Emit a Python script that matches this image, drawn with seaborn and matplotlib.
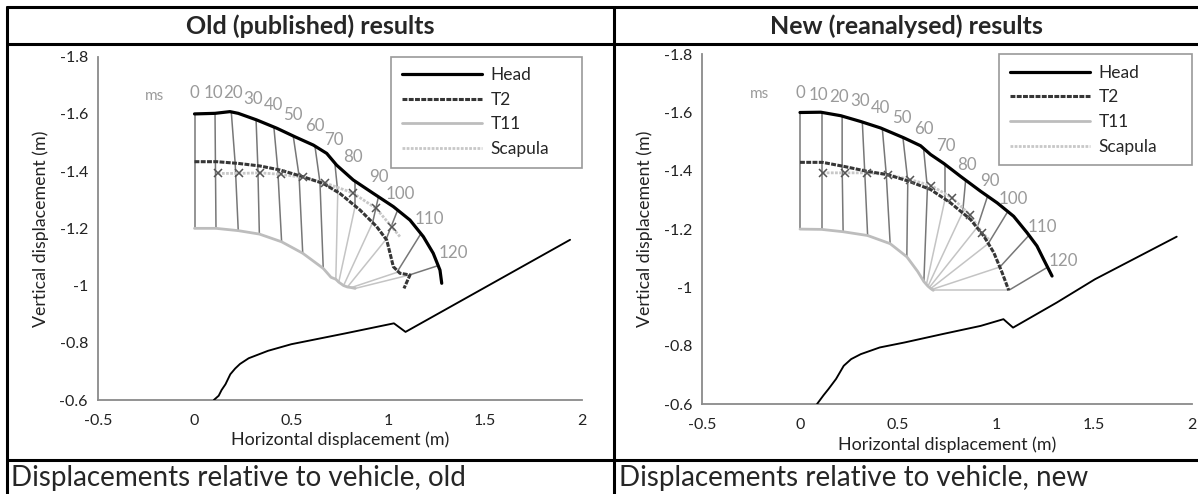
import numpy as np
import pandas as pd
import seaborn as sns
import matplotlib.pyplot as plt
from matplotlib.lines import Line2D

# time stamps of the stick figures (ms)
times = [0, 10, 20, 30, 40, 50, 60, 70, 80, 90, 100, 110, 120]

# ---- old (published) results ----
old_head_x = [0.0, 0.106, 0.183, 0.226, 0.321, 0.425, 0.519, 0.614, 0.683, 0.734, 0.82, 0.924, 1.027, 1.113, 1.182, 1.233, 1.268, 1.277]
old_head_y = [-1.6, -1.602, -1.608, -1.602, -1.579, -1.55, -1.52, -1.491, -1.462, -1.421, -1.369, -1.322, -1.276, -1.229, -1.171, -1.113, -1.054, -1.008]
old_t2_x = [0.0, 0.115, 0.226, 0.338, 0.442, 0.562, 0.665, 0.751, 0.855, 0.941, 0.993, 1.01, 1.027, 1.061, 1.113, 1.082]
old_t2_y = [-1.433, -1.433, -1.427, -1.418, -1.404, -1.38, -1.357, -1.322, -1.264, -1.206, -1.159, -1.113, -1.066, -1.043, -1.037, -0.99]
old_t11_x = [0.0, 0.111, 0.226, 0.335, 0.45, 0.559, 0.665, 0.705, 0.73, 0.745, 0.77, 0.79, 0.81, 0.83]
old_t11_y = [-1.2, -1.2, -1.192, -1.18, -1.153, -1.113, -1.06, -1.029, -1.022, -1.012, -1.0, -0.995, -0.993, -0.99]
old_scap_x = [0.12, 0.231, 0.338, 0.445, 0.559, 0.674, 0.817, 0.938, 1.018, 1.061]
old_scap_y = [-1.392, -1.392, -1.394, -1.389, -1.378, -1.359, -1.324, -1.27, -1.206, -1.171]
old_veh_x = [0.10, 0.125, 0.14, 0.16, 0.185, 0.21, 0.235, 0.28, 0.38, 0.5, 0.78, 1.03, 1.09, 1.94]
old_veh_y = [-0.60, -0.615, -0.635, -0.655, -0.69, -0.71, -0.726, -0.746, -0.772, -0.795, -0.833, -0.868, -0.838, -1.16]
# body points at each time stamp
old_sh_x = [0.0, 0.106, 0.19, 0.318, 0.41, 0.51, 0.622, 0.725, 0.83, 0.95, 1.05, 1.17, 1.26]
old_sh_y = [-1.6, -1.602, -1.607, -1.58, -1.554, -1.523, -1.488, -1.428, -1.364, -1.31, -1.265, -1.182, -1.07]
old_s2_x = [0.0, 0.108, 0.21, 0.327, 0.43, 0.54, 0.648, 0.74, 0.83, 0.92, 0.99, 1.045, 1.11]
old_s2_y = [-1.433, -1.433, -1.428, -1.419, -1.406, -1.384, -1.361, -1.327, -1.278, -1.22, -1.162, -1.046, -1.037]
old_s11_x = [0.0, 0.111, 0.226, 0.335, 0.45, 0.559, 0.665, 0.73, 0.745, 0.77, 0.79, 0.81, 0.83]
old_s11_y = [-1.2, -1.2, -1.192, -1.18, -1.153, -1.113, -1.06, -1.022, -1.012, -1.0, -0.995, -0.993, -0.99]
old_lab_x = [0.0, 0.096, 0.199, 0.303, 0.407, 0.507, 0.622, 0.72, 0.817, 0.95, 1.061, 1.213, 1.337]
old_lab_y = [-1.672, -1.672, -1.672, -1.651, -1.631, -1.596, -1.558, -1.509, -1.45, -1.38, -1.32, -1.233, -1.113]

# ---- new (reanalysed) results ----
new_head_x = [0.0, 0.106, 0.208, 0.31, 0.411, 0.53, 0.615, 0.666, 0.734, 0.819, 0.921, 1.006, 1.09, 1.158, 1.209, 1.243, 1.286]
new_head_y = [-1.6, -1.601, -1.589, -1.569, -1.547, -1.513, -1.486, -1.456, -1.425, -1.381, -1.33, -1.29, -1.244, -1.188, -1.142, -1.096, -1.039]
new_t2_x = [0.0, 0.115, 0.225, 0.344, 0.446, 0.556, 0.666, 0.768, 0.87, 0.938, 0.989, 1.031, 1.065]
new_t2_y = [-1.429, -1.429, -1.415, -1.398, -1.387, -1.364, -1.336, -1.29, -1.233, -1.176, -1.119, -1.051, -0.99]
new_t11_x = [0.0, 0.11, 0.22, 0.345, 0.46, 0.545, 0.6, 0.632, 0.645, 0.653, 0.66, 0.667, 0.673, 0.68]
new_t11_y = [-1.2, -1.199, -1.191, -1.178, -1.15, -1.105, -1.055, -1.02, -1.01, -1.004, -1.0, -0.996, -0.993, -0.99]
new_scap_x = [0.115, 0.228, 0.34, 0.449, 0.561, 0.67, 0.777, 0.865, 0.929, 0.963]
new_scap_y = [-1.393, -1.393, -1.393, -1.387, -1.37, -1.349, -1.307, -1.25, -1.188, -1.165]
new_veh_x = [0.087, 0.12, 0.145, 0.184, 0.223, 0.261, 0.31, 0.407, 0.533, 0.728, 0.922, 1.038, 1.087, 1.31, 1.505, 1.922]
new_veh_y = [-0.6, -0.63, -0.651, -0.686, -0.731, -0.754, -0.771, -0.794, -0.811, -0.84, -0.868, -0.891, -0.862, -0.948, -1.028, -1.174]
new_sh_x = [0.0, 0.11, 0.215, 0.318, 0.42, 0.525, 0.63, 0.74, 0.845, 0.955, 1.06, 1.17, 1.265]
new_sh_y = [-1.6, -1.601, -1.588, -1.567, -1.545, -1.515, -1.48, -1.422, -1.367, -1.309, -1.26, -1.18, -1.07]
new_s2_x = [0.0, 0.11, 0.215, 0.33, 0.44, 0.55, 0.65, 0.74, 0.83, 0.905, 0.96, 1.02, 1.065]
new_s2_y = [-1.429, -1.429, -1.416, -1.4, -1.388, -1.365, -1.34, -1.303, -1.258, -1.207, -1.15, -1.07, -0.99]
new_s11_x = [0.0, 0.11, 0.22, 0.345, 0.46, 0.545, 0.632, 0.645, 0.653, 0.66, 0.667, 0.673, 0.68]
new_s11_y = [-1.2, -1.199, -1.191, -1.178, -1.15, -1.105, -1.02, -1.01, -1.004, -1.0, -0.996, -0.993, -0.99]
new_lab_x = [0.0, 0.094, 0.199, 0.308, 0.413, 0.522, 0.632, 0.742, 0.853, 0.971, 1.09, 1.235, 1.345]
new_lab_y = [-1.667, -1.661, -1.653, -1.638, -1.615, -1.581, -1.543, -1.486, -1.421, -1.364, -1.304, -1.208, -1.09]

titles = ["Old (published) results", "New (reanalysed) results"]
captions = ["Displacements relative to vehicle, old", "Displacements relative to vehicle, new"]
xticks = [-0.5, 0, 0.5, 1, 1.5, 2]
yticks = [-1.8, -1.6, -1.4, -1.2, -1, -0.8, -0.6]

sns.set_style("white")
plt.rcParams['font.family'] = ['Lato', 'DejaVu Sans']

W, H = 1198, 494
fig = plt.figure(figsize=(W / 100, H / 100), dpi=100)

DARK = '#363636'
STICK = '#777777'
LIGHT = '#c4c4c4'
LABEL = '#9a9a9a'


def panel(ax, head, t2, t11, scap, veh, sh, s2, s11, lab):
    # stick figures
    for i, t in enumerate(times):
        if t <= 60:
            ax.plot([sh[0][i], s2[0][i], s11[0][i]], [sh[1][i], s2[1][i], s11[1][i]],
                    color=STICK, lw=1.1, zorder=1)
        else:
            ax.plot([sh[0][i], s2[0][i]], [sh[1][i], s2[1][i]], color=STICK, lw=1.1, zorder=1)
            ax.plot([s2[0][i], s11[0][i]], [s2[1][i], s11[1][i]], color=LIGHT, lw=1.1, zorder=1)
        ax.text(lab[0][i], lab[1][i], str(t), color=LABEL, fontsize=12.2,
                ha='center', va='center')
    ax.text(-0.205, -1.663, "ms", color=LABEL, fontsize=11, ha='center', va='center')

    sns.lineplot(x=t11[0], y=t11[1], sort=False, estimator=None, ax=ax,
                 color='#bdbdbd', lw=2.0, zorder=2)
    sns.lineplot(x=scap[0], y=scap[1], sort=False, estimator=None, ax=ax,
                 color='#c8c8c8', lw=2.0, ls=(0, (1, 0.5)), zorder=2)
    ax.plot(scap[0][:-1], scap[1][:-1], ls='none', marker='x', ms=6, mew=1.1,
            color='#555555', zorder=4)
    sns.lineplot(x=t2[0], y=t2[1], sort=False, estimator=None, ax=ax,
                 color=DARK, lw=2.2, ls=(0, (1.6, 0.45)), zorder=3)
    sns.lineplot(x=head[0], y=head[1], sort=False, estimator=None, ax=ax,
                 color='black', lw=2.3, zorder=3)
    sns.lineplot(x=veh[0], y=veh[1], sort=False, estimator=None, ax=ax,
                 color='black', lw=1.35, zorder=3)

    ax.set_xlim(-0.5, 2)
    ax.set_ylim(-0.6, -1.8)
    ax.set_xticks(xticks)
    ax.set_yticks(yticks)
    ax.set_xticklabels([f"{v:g}" for v in xticks])
    ax.set_yticklabels([f"{v:g}" for v in yticks])
    ax.set_xlabel("Horizontal displacement (m)", fontsize=12.8, color='#222222')
    ax.set_ylabel("Vertical displacement (m)", fontsize=12.8, color='#222222')
    ax.xaxis.set_label_coords(0.5, -0.093)
    ax.yaxis.set_label_coords(-0.1, 0.5)
    for s in ['top', 'right']:
        ax.spines[s].set_visible(False)
    for s in ['left', 'bottom']:
        ax.spines[s].set_color('#8a8a8a')
        ax.spines[s].set_linewidth(1.3)
    ax.tick_params(axis='both', direction='out', length=3, width=1, color='#8a8a8a',
                   labelsize=11.5, labelcolor='#222222')
    ax.tick_params(axis='x', pad=7)
    ax.tick_params(axis='y', pad=4)

    handles = [Line2D([], [], color='black', lw=2.3),
               Line2D([], [], color=DARK, lw=2.2, ls=(0, (1.6, 0.45))),
               Line2D([], [], color='#bdbdbd', lw=2.0),
               Line2D([], [], color='#c8c8c8', lw=2.0, ls=(0, (1, 0.5)))]
    leg = ax.legend(handles, ["Head", "T2", "T11", "Scapula"], loc='upper right',
                    bbox_to_anchor=(0.607, 0.5, 0.393, 0.5), mode='expand',
                    borderaxespad=0, fontsize=12.5,
                    handlelength=4.6, handletextpad=0.5, labelspacing=0.5,
                    fancybox=False, framealpha=1, edgecolor='#999999', borderpad=0.6)
    leg.get_frame().set_linewidth(1.2)


ax1 = fig.add_axes([97.7 / W, 1 - 400 / H, 484 / W, 343.3 / H])
panel(ax1, (old_head_x, old_head_y), (old_t2_x, old_t2_y), (old_t11_x, old_t11_y),
      (old_scap_x, old_scap_y), (old_veh_x, old_veh_y), (old_sh_x, old_sh_y),
      (old_s2_x, old_s2_y), (old_s11_x, old_s11_y), (old_lab_x, old_lab_y))

ax2 = fig.add_axes([702 / W, 1 - 404 / H, 490 / W, 349.8 / H])
panel(ax2, (new_head_x, new_head_y), (new_t2_x, new_t2_y), (new_t11_x, new_t11_y),
      (new_scap_x, new_scap_y), (new_veh_x, new_veh_y), (new_sh_x, new_sh_y),
      (new_s2_x, new_s2_y), (new_s11_x, new_s11_y), (new_lab_x, new_lab_y))

# table frame
def hline(y, x0=7, x1=W):
    fig.add_artist(Line2D([x0 / W, x1 / W], [1 - y / H, 1 - y / H], color='black', lw=2.2))

def vline(x, y0=7, y1=H):
    fig.add_artist(Line2D([x / W, x / W], [1 - y0 / H, 1 - y1 / H], color='black', lw=2.2))

hline(7)
hline(44)
hline(460)
vline(7)
vline(614)

fig.text(310 / W, 1 - 26 / H, titles[0], fontsize=18, fontweight='bold', ha='center', va='center')
fig.text(906 / W, 1 - 26 / H, titles[1], fontsize=18, fontweight='bold', ha='center', va='center')
fig.text(11 / W, 1 - 486 / H, captions[0], fontsize=20, ha='left', va='baseline')
fig.text(619 / W, 1 - 486 / H, captions[1], fontsize=20, ha='left', va='baseline')

fig.savefig("out.png", dpi=100)
